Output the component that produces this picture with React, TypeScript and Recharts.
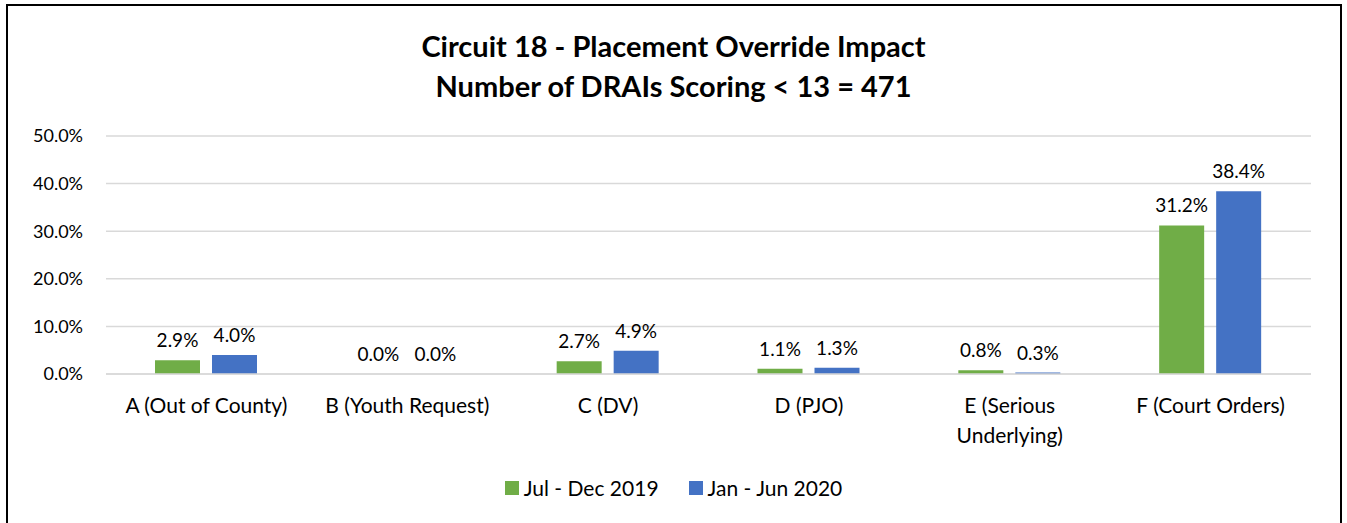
import { BarChart, Bar, XAxis, YAxis, CartesianGrid, LabelList } from "recharts";

const categories = [
  "A (Out of County)",
  "B (Youth Request)",
  "C (DV)",
  "D (PJO)",
  "E (Serious Underlying)",
  "F (Court Orders)",
];
const jul2019 = [2.9, 0.0, 2.7, 1.1, 0.8, 31.2];
const jan2020 = [4.0, 0.0, 4.9, 1.3, 0.3, 38.4];
const yTicks = [0, 10, 20, 30, 40, 50];
const seriesNames = ["Jul - Dec 2019", "Jan - Jun 2020"];
const seriesColors = ["#70AD47", "#4472C4"];

const data = categories.map((name, i) => ({
  name,
  jul: jul2019[i],
  jan: jan2020[i],
}));

const FONT = "Lato, 'Open Sans', sans-serif";
const pct = (v: number) => `${Number(v).toFixed(1)}%`;

// wrap long category names on two lines like Excel does
const WrapTick = (props: any) => {
  const { x, y, payload } = props;
  const words = String(payload.value).split(" ");
  const lines: string[] = [];
  let cur = "";
  words.forEach((w) => {
    const next = cur ? cur + " " + w : w;
    if (next.length > 18 && cur) {
      lines.push(cur);
      cur = w;
    } else cur = next;
  });
  if (cur) lines.push(cur);
  return (
    <text x={x} y={y} textAnchor="middle" fill="#000" fontSize={21} fontFamily={FONT}>
      {lines.map((l, i) => (
        <tspan key={i} x={x} dy={i === 0 ? 39 : 30}>
          {l}
        </tspan>
      ))}
    </text>
  );
};

export default function App() {
  return (
    <div style={{ position: "absolute", left: 0, top: 0, width: 1347, height: 523, background: "#fff", overflow: "hidden" }}>
      <div
        style={{
          position: "absolute",
          left: 6,
          top: 4,
          width: 1332,
          height: 530,
          border: "2px solid #000",
        }}
      />
      <div
        style={{
          position: "absolute",
          left: 0,
          top: 26,
          width: 1347,
          textAlign: "center",
          fontFamily: FONT,
          fontWeight: 700,
          fontSize: 29,
          lineHeight: "40px",
          color: "#000",
        }}
      >
        <div>Circuit 18 - Placement Override Impact</div>
        <div>Number of DRAIs Scoring &lt; 13 = 471</div>
      </div>
      <div style={{ position: "absolute", left: 0, top: 0 }}>
        <BarChart
          width={1347}
          height={523}
          data={data}
          margin={{ top: 136, right: 36, bottom: 89, left: 0 }}
          barGap={12}
          barSize={45}
        >
          <CartesianGrid vertical={false} stroke="#d9d9d9" strokeWidth={1.5} />
          <XAxis
            dataKey="name"
            axisLine={{ stroke: "#d9d9d9", strokeWidth: 1.5 }}
            tickLine={false}
            tickSize={0}
            tickMargin={0}
            interval={0}
            tick={<WrapTick />}
            height={60}
          />
          <YAxis
            domain={[0, 50]}
            ticks={yTicks}
            tickFormatter={pct}
            axisLine={false}
            tickLine={false}
            tickSize={0}
            tickMargin={23}
            width={106}
            tick={{ fill: "#000", fontSize: 18, fontFamily: FONT }}
          />
          <Bar dataKey="jul" fill={seriesColors[0]} minPointSize={0.1} isAnimationActive={false}>
            <LabelList dataKey="jul" position="top" offset={13} formatter={pct} fill="#000" fontSize={19} fontFamily={FONT} />
          </Bar>
          <Bar dataKey="jan" fill={seriesColors[1]} minPointSize={0.1} isAnimationActive={false}>
            <LabelList dataKey="jan" position="top" offset={13} formatter={pct} fill="#000" fontSize={19} fontFamily={FONT} />
          </Bar>
        </BarChart>
      </div>
      <div
        style={{
          position: "absolute",
          left: 0,
          top: 475,
          width: 1347,
          display: "flex",
          justifyContent: "center",
          fontFamily: FONT,
          fontSize: 21,
          color: "#000",
        }}
      >
        {seriesNames.map((n, i) => (
          <div key={n} style={{ display: "flex", alignItems: "center", marginRight: i === 0 ? 30 : 0 }}>
            <span style={{ width: 14, height: 14, background: seriesColors[i], display: "inline-block", marginRight: 5 }} />
            <span>{n}</span>
          </div>
        ))}
      </div>
    </div>
  );
}
